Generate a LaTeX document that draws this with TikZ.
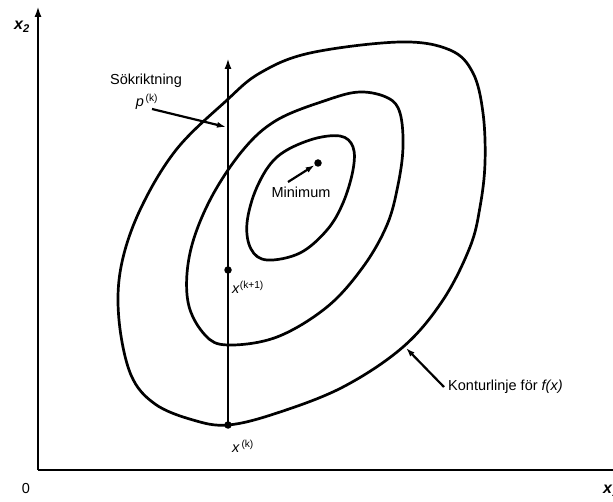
\documentclass[tikz,border=0pt]{standalone}
\usepackage{fontspec}
\setmainfont{Liberation Sans}
\usetikzlibrary{arrows.meta}
\begin{document}
\begin{tikzpicture}[x=1pt,y=-1pt,
  curve/.style={line width=2.7pt,line join=round},
  axis/.style={line width=2.2pt},
  pointer/.style={line width=2.2pt,-{Latex[length=9pt,width=6pt]}},
  lbl/.style={font=\fontsize{14.5pt}{17pt}\selectfont,inner sep=0pt},
  dot/.style={circle,fill=black,inner sep=0pt,minimum size=7.5pt}]
\useasboundingbox (0,0) rectangle (613,502);
% axes
\coordinate (O) at (38,470);
\coordinate (ytop) at (38,6);
\coordinate (xend) at (630,470);
\draw[axis,-{Latex[length=11pt,width=7pt]}] (O) -- (ytop);
\draw[axis] (O) -- (xend);
\node[lbl] (zero) at (26,489) {0};
\node[lbl,font=\fontsize{16pt}{18pt}\selectfont\bfseries\itshape] (x2) at (22,27) {x\textsubscript{2}};
\node[lbl,font=\fontsize{16pt}{18pt}\selectfont\bfseries\itshape,anchor=west] (x1) at (603,491) {x\textsubscript{1}};
% contours
\draw[curve] plot[smooth cycle,tension=0.6] coordinates {
 (228,425) (277,413) (343,387) (403,347) (443,300) (470,247) (480,207)
 (485,163) (483,113) (473,73) (450,50) (400,42) (310,53)
 (260,73) (226,101) (176,150) (140,210) (121,267) (119,320)
 (131,375) (155,404) (193,420)};
\draw[curve] plot[smooth cycle,tension=0.6] coordinates {
 (228,345) (277,337) (327,307) (363,267) (387,225) (398,185) (403,147)
 (400,113) (388,98) (360,92) (327,100) (277,120) (243,150) (210,200)
 (190,253) (188,302) (205,335)};
\draw[curve] plot[smooth cycle,tension=0.6] coordinates {
 (267,260) (300,253) (327,230) (343,203) (353,170) (353,147) (340,136)
 (310,140) (277,157) (257,187) (247,223) (251,249)};
% search direction
\node[dot] (xk) at (228,425) {};
\node[dot] (xk1) at (228,270) {};
\coordinate (ptop) at (228,58);
\draw[axis,-{Latex[length=11pt,width=7pt]}] (xk.center) -- (ptop);
\node[dot] (min) at (318,163) {};
% labels
\node[lbl] (sok) at (146,81) {Sökriktning};
\node[lbl] (pk) at (147,102) {\textit{p}\textsuperscript{\,(k)}};
\coordinate (parr) at (226,127);
\draw[pointer] (152,109) -- (parr);
\node[lbl] (minl) at (301,192) {Minimum};
\draw[pointer] (288,182) -- (min);
\node[lbl,anchor=west] (xk1l) at (232,287) {\textit{x}\textsuperscript{(k+1)}};
\node[lbl] (xkl) at (243,446) {\textit{x}\textsuperscript{\,(k)}};
\node[lbl,anchor=west] (kont) at (448,387) {Konturlinje för \textit{f(x)}};
\coordinate (karr) at (406,348);
\draw[pointer] (kont.west) ++(-4,0) -- (karr);
\end{tikzpicture}
\end{document}
